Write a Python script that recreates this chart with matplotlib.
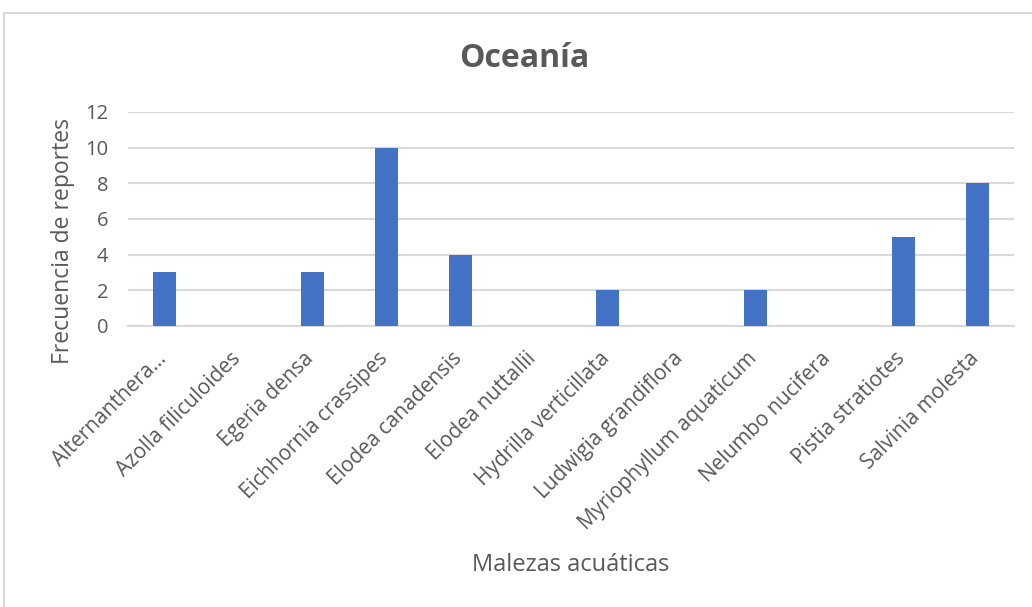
import matplotlib.pyplot as plt
import matplotlib.transforms as mtransforms
from matplotlib.patches import Rectangle

especies = ["Alternanthera...", "Azolla filiculoides", "Egeria densa",
            "Eichhornia crassipes", "Elodea canadensis", "Elodea nuttallii",
            "Hydrilla verticillata", "Ludwigia grandiflora",
            "Myriophyllum aquaticum", "Nelumbo nucifera", "Pistia stratiotes",
            "Salvinia molesta"]
reportes = [3, 0, 3, 10, 4, 0, 2, 0, 2, 0, 5, 8]
y_ticks = [0, 2, 4, 6, 8, 10, 12]

plt.rcParams['font.family'] = ['Open Sans', 'DejaVu Sans']
gris = "#595959"

fig = plt.figure(figsize=(10.32, 6.07), dpi=100)
ax = fig.add_axes([0.124, 0.463, 0.8586, 0.3525])

x = range(len(especies))
ax.bar(x, reportes, width=0.31, color="#4472C4", zorder=3)

ax.set_xlim(-0.5, len(especies) - 0.5)
ax.set_ylim(0, 12)
ax.set_yticks(y_ticks)
ax.set_xticks(list(x))
ax.set_xticklabels(especies, rotation=45, ha="right", rotation_mode="anchor")
ax.tick_params(axis="x", length=0, pad=16, labelsize=15, labelcolor=gris)
ax.tick_params(axis="y", length=0, pad=14, labelsize=14.5, labelcolor=gris)
ax.yaxis.grid(True, color="#D9D9D9", linewidth=1.5, zorder=0)

# shift the slanted labels a little to the left, as in the original
offset = mtransforms.ScaledTranslation(-9 / 100, 0, fig.dpi_scale_trans)
for lbl in ax.get_xticklabels():
    lbl.set_transform(lbl.get_transform() + offset)

for s in ["top", "right", "left"]:
    ax.spines[s].set_visible(False)
ax.spines["bottom"].set_color("#D9D9D9")
ax.spines["bottom"].set_linewidth(1.5)

ax.set_ylabel("Frecuencia de reportes", fontsize=16.5, color=gris)
ax.yaxis.set_label_coords(-0.06, 0.395)
ax.set_xlabel("Malezas acuáticas", fontsize=17, color=gris)
ax.xaxis.set_label_coords(0.5, -1.06)

fig.text(0.508, 0.904, "Oceanía", fontsize=23, fontweight="bold", color=gris,
         ha="center", va="center")

fig.patches.append(Rectangle((0.004, -0.05), 1.2, 1.028, transform=fig.transFigure,
                             fill=False, edgecolor="#D9D9D9", linewidth=1.5))

fig.savefig("out.png", dpi=100)
